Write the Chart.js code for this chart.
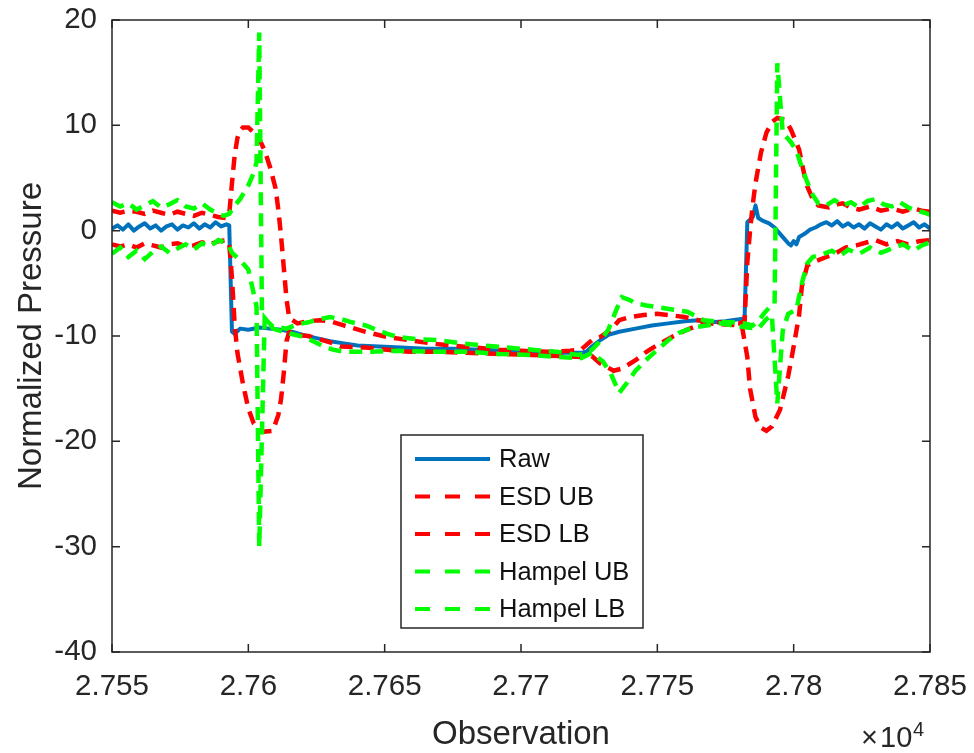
<!DOCTYPE html>
<html>
<head>
<meta charset="utf-8">
<title>Normalized Pressure</title>
<script src="https://cdn.jsdelivr.net/npm/chart.js@4.4.1/dist/chart.umd.min.js"></script>
<style>
  html, body { margin: 0; padding: 0; background: #fff; }
  #wrap { width: 974px; height: 753px; position: relative; }
</style>
</head>
<body>
<div id="wrap"><canvas id="pressureChart" width="974" height="753"></canvas></div>
<script>
// observation ranges and ticks
const xTickLabels = ['2.755', '2.76', '2.765', '2.77', '2.775', '2.78', '2.785'];
const yTickLabels = ['-40', '-30', '-20', '-10', '0', '10', '20'];

// raw signal
const rawObs = [
    27550, 27552, 27554, 27556, 27558, 27560, 27562, 27564, 27566, 27568,
    27570, 27572, 27574, 27576, 27578, 27580, 27582, 27584, 27586, 27588,
    27590, 27592, 27593, 27594, 27595, 27597, 27600, 27604, 27608, 27612,
    27616, 27620, 27625, 27630, 27635, 27640, 27648, 27656, 27665, 27675,
    27685, 27695, 27705, 27715, 27722, 27724, 27726, 27729, 27732, 27736,
    27742, 27748, 27754, 27760, 27765, 27770, 27775, 27780, 27782, 27783,
    27785, 27786, 27787, 27789, 27791, 27793, 27795, 27797, 27798, 27799,
    27800, 27801, 27802, 27804, 27806, 27808, 27810, 27812, 27814, 27816,
    27818, 27820, 27822, 27824, 27826, 27828, 27830, 27832, 27834, 27836,
    27838, 27840, 27842, 27844, 27846, 27848, 27850
];
const rawVal = [
    0.2, 0.5, 0.1, 0.6, 0.0, 0.4, 0.7, 0.2, 0.5, 0.0,
    0.4, 0.6, 0.1, 0.5, 0.3, 0.7, 0.2, 0.6, 0.3, 0.8,
    0.4, 0.6, 0.5, -9.6, -9.8, -9.3, -9.4, -9.2, -9.3, -9.4,
    -9.6, -9.9, -10.2, -10.5, -10.7, -10.9, -11.0, -11.1, -11.2, -11.2,
    -11.3, -11.4, -11.5, -11.6, -11.6, -11.5, -11.0, -10.4, -9.9, -9.6,
    -9.3, -9.0, -8.8, -8.6, -8.5, -8.7, -8.6, -8.4, -8.3, 0.8,
    1.3, 2.4, 1.2, 0.9, 0.7, 0.3, -0.3, -0.9, -1.2, -1.4,
    -1.0, -1.3, -0.6, -0.3, 0.1, 0.3, 0.6, 0.8, 0.5, 0.9,
    0.4, 0.7, 0.3, 0.6, 0.2, 0.7, 0.4, 0.1, 0.6, 0.3,
    0.7, 0.2, 0.5, 0.8, 0.3, 0.6, 0.2
];

// ESD upper bound
const esdUbObs = [
    27550, 27553, 27556, 27559, 27562, 27565, 27568, 27571, 27574, 27577,
    27580, 27583, 27586, 27589, 27592, 27593, 27594, 27595, 27596, 27597,
    27598, 27600, 27602, 27604, 27606, 27608, 27610, 27611, 27612, 27613,
    27614, 27615, 27618, 27622, 27626, 27630, 27635, 27643, 27651, 27659,
    27667, 27674, 27683, 27692, 27700, 27710, 27718, 27722, 27726, 27729,
    27733, 27736, 27740, 27745, 27750, 27754, 27760, 27765, 27772, 27780,
    27782, 27783, 27784, 27785, 27786, 27788, 27790, 27792, 27794, 27797,
    27799, 27802, 27804, 27805, 27807, 27809, 27811, 27813, 27816, 27818,
    27821, 27824, 27828, 27832, 27836, 27840, 27844, 27847, 27850
];
const esdUbVal = [
    1.9, 1.7, 1.9, 1.8, 1.6, 1.9, 1.7, 1.5, 1.8, 1.6,
    1.4, 1.7, 1.5, 1.3, 1.2, 1.6, 4.5, 7.2, 8.8, 9.5,
    9.8, 9.8, 9.3, 8.7, 7.6, 6.0, 4.0, 2.0, -0.5, -3.5,
    -6.5, -8.3, -8.8, -8.6, -8.5, -8.6, -9.0, -9.6, -10.1, -10.4,
    -10.7, -10.9, -11.1, -11.3, -11.4, -11.5, -11.4, -11.3, -10.4, -10.1,
    -9.4, -8.5, -8.2, -8.0, -7.9, -8.0, -8.2, -8.5, -8.7, -8.8,
    -8.6, -3.0, 0.0, 2.5, 4.5, 7.4, 9.3, 10.3, 10.7, 10.5,
    9.6, 7.7, 5.2, 4.2, 3.0, 2.4, 2.3, 2.2, 2.5, 2.6,
    2.2, 2.0, 2.3, 1.9, 2.1, 1.8, 2.1, 1.9, 1.8
];

// ESD lower bound
const esdLbObs = [
    27550, 27553, 27556, 27559, 27562, 27565, 27568, 27571, 27574, 27577,
    27580, 27583, 27586, 27589, 27592, 27593, 27594, 27595, 27596, 27598,
    27600, 27602, 27605, 27609, 27611, 27612, 27613, 27614, 27615, 27618,
    27622, 27626, 27630, 27634, 27643, 27651, 27659, 27670, 27680, 27692,
    27704, 27714, 27722, 27726, 27729, 27734, 27737, 27742, 27746, 27751,
    27756, 27761, 27765, 27769, 27775, 27781, 27783, 27784, 27786, 27788,
    27790, 27792, 27795, 27798, 27800, 27801, 27802, 27803, 27805, 27808,
    27812, 27815, 27819, 27823, 27827, 27830, 27834, 27838, 27842, 27846,
    27850
];
const esdLbVal = [
    -1.3, -1.5, -1.3, -1.6, -1.2, -1.4, -1.6, -1.3, -1.2, -1.5,
    -1.4, -1.1, -1.3, -1.0, -0.9, -1.2, -4.5, -9.0, -11.6, -14.5,
    -16.9, -18.3, -19.1, -19.0, -17.5, -16.0, -13.5, -10.5, -9.6, -9.9,
    -10.0, -10.3, -10.6, -11.0, -11.1, -11.3, -11.5, -11.5, -11.6, -11.7,
    -11.8, -11.9, -12.0, -11.9, -12.6, -13.3, -13.1, -12.3, -11.5, -10.7,
    -10.0, -9.4, -9.0, -8.8, -8.9, -9.0, -12.0, -15.0, -17.7, -18.7,
    -19.0, -18.6, -17.0, -13.8, -11.0, -9.5, -8.0, -5.3, -3.3, -2.9,
    -2.5, -2.2, -1.6, -1.4, -1.1, -0.9, -1.3, -1.0, -1.3, -1.0,
    -0.9
];

// Hampel upper bound
const hampelUbObs = [
    27550, 27553, 27556, 27559, 27562, 27565, 27568, 27571, 27574, 27577,
    27580, 27583, 27586, 27589, 27591, 27593, 27595, 27597, 27600, 27602,
    27603, 27604, 27605, 27607, 27609, 27614, 27618, 27622, 27626, 27630,
    27634, 27638, 27643, 27647, 27651, 27655, 27662, 27670, 27678, 27686,
    27695, 27704, 27713, 27721, 27724, 27726, 27729, 27732, 27735, 27737,
    27740, 27742, 27746, 27751, 27756, 27761, 27764, 27767, 27771, 27775,
    27779, 27782, 27785, 27787, 27789, 27791, 27793, 27794, 27796, 27799,
    27801, 27803, 27805, 27807, 27809, 27812, 27815, 27818, 27821, 27824,
    27827, 27830, 27833, 27836, 27839, 27842, 27845, 27848, 27850
];
const hampelUbVal = [
    2.7, 2.3, 2.6, 2.0, 2.4, 2.8, 2.2, 2.5, 2.9, 2.3,
    2.1, 2.6, 2.0, 1.6, 1.4, 1.6, 2.4, 3.0, 4.3, 5.5,
    6.5, 18.8, -8.0, -8.6, -9.1, -9.3, -8.9, -8.7, -8.4, -8.2,
    -8.4, -8.7, -9.0, -9.4, -9.8, -10.1, -10.3, -10.4, -10.7, -10.9,
    -11.1, -11.3, -11.5, -11.8, -11.6, -11.3, -10.5, -9.4, -7.5, -6.3,
    -6.6, -6.9, -7.1, -7.3, -7.5, -7.7, -8.1, -8.5, -8.6, -8.7,
    -8.7, -8.8, -9.0, -8.6, -7.9, -7.3, -7.0, 15.9, 9.3, 8.4,
    7.6, 6.0, 4.6, 3.4, 2.6, 2.4, 2.9, 2.4, 2.7, 2.2,
    2.8, 3.0, 2.5, 2.3, 2.7, 2.2, 1.9, 1.7, 1.5
];

// Hampel lower bound
const hampelLbObs = [
    27550, 27553, 27556, 27559, 27562, 27565, 27568, 27571, 27574, 27577,
    27580, 27583, 27586, 27589, 27591, 27593, 27594, 27597, 27600, 27602,
    27603, 27604, 27606, 27609, 27614, 27619, 27623, 27627, 27631, 27635,
    27645, 27655, 27667, 27680, 27692, 27704, 27714, 27722, 27726, 27730,
    27733, 27736, 27739, 27742, 27747, 27754, 27758, 27763, 27768, 27773,
    27778, 27783, 27787, 27790, 27792, 27794, 27796, 27798, 27801, 27803,
    27805, 27807, 27810, 27814, 27817, 27820, 27824, 27828, 27832, 27836,
    27840, 27844, 27847, 27850
];
const hampelLbVal = [
    -2.2, -1.6, -2.5, -1.9, -2.7, -2.0, -1.5, -2.1, -1.7, -1.3,
    -1.8, -1.2, -1.5, -0.9, -1.1, -1.5, -2.1, -2.8, -3.7, -6.0,
    -7.2, -30.0, -8.3, -9.3, -9.7, -10.0, -10.4, -10.9, -11.3, -11.5,
    -11.5, -11.4, -11.5, -11.5, -11.7, -11.8, -12.0, -12.1, -11.6, -12.4,
    -13.6, -15.4, -14.4, -13.3, -12.0, -10.4, -9.7, -9.2, -9.0, -8.8,
    -9.0, -9.2, -9.3, -8.4, -8.0, -16.4, -9.5, -7.9, -7.5, -5.0,
    -3.1, -2.5, -2.3, -1.9, -2.4, -1.8, -2.2, -1.6, -2.1, -1.7,
    -1.3, -1.9, -1.4, -1.1
];

const AXIS_COLOR = '#262626';
const FONT = "'Liberation Sans', Arial, Helvetica, sans-serif";

Chart.defaults.font.family = FONT;
Chart.defaults.color = AXIS_COLOR;

function toPoints(obs, vals) {
    return obs.map((x, i) => ({ x: x, y: vals[i] }));
}

function lineSet(label, obs, vals, color, dashed, order) {
    return {
        label: label,
        data: toPoints(obs, vals),
        borderColor: color,
        backgroundColor: color,
        borderWidth: dashed ? 4.5 : 4,
        borderDash: dashed ? [13, 8] : [],
        borderCapStyle: 'butt',
        borderJoinStyle: dashed ? 'miter' : 'round',
        pointRadius: 0,
        tension: 0,
        fill: false,
        order: order
    };
}

// keep the plot box fixed: the scales must not reserve extra room for end labels
function fixScale(size, horizontal) {
    return function (scale) {
        if (horizontal) scale.height = size; else scale.width = size;
        scale.paddingTop = 0;
        scale.paddingBottom = 0;
        scale.paddingLeft = 0;
        scale.paddingRight = 0;
    };
}

// box with inward tick marks on all four sides
const axesBox = {
    id: 'axesBox',
    afterDatasetsDraw(chart) {
        const { ctx, chartArea: a, scales: { x, y } } = chart;
        const len = 8;
        ctx.save();
        ctx.strokeStyle = AXIS_COLOR;
        ctx.lineWidth = 1.5;
        ctx.setLineDash([]);
        ctx.beginPath();
        x.ticks.forEach(t => {
            const px = x.getPixelForValue(t.value);
            ctx.moveTo(px, a.bottom); ctx.lineTo(px, a.bottom - len);
            ctx.moveTo(px, a.top); ctx.lineTo(px, a.top + len);
        });
        y.ticks.forEach(t => {
            const py = y.getPixelForValue(t.value);
            ctx.moveTo(a.left, py); ctx.lineTo(a.left + len, py);
            ctx.moveTo(a.right, py); ctx.lineTo(a.right - len, py);
        });
        ctx.stroke();
        ctx.strokeRect(a.left, a.top, a.right - a.left, a.bottom - a.top);

        // exponent under the x axis
        ctx.fillStyle = AXIS_COLOR;
        ctx.textBaseline = 'alphabetic';
        ctx.textAlign = 'left';
        ctx.font = '29px ' + FONT;
        ctx.fillText('\u00d7', 861, 747);
        ctx.fillText('10', 880, 747);
        ctx.font = '20px ' + FONT;
        ctx.fillText('4', 913, 736);
        ctx.restore();
    }
};

// boxed legend inside the plot
const boxLegend = {
    id: 'boxLegend',
    afterDraw(chart) {
        const { ctx } = chart;
        const left = 401, top = 435, w = 242, h = 193;
        const rowY = [459, 496.5, 534, 571.5, 609];
        ctx.save();
        ctx.fillStyle = '#ffffff';
        ctx.fillRect(left, top, w, h);
        ctx.strokeStyle = AXIS_COLOR;
        ctx.lineWidth = 1.5;
        ctx.strokeRect(left, top, w, h);
        chart.data.datasets.forEach((ds, i) => {
            const yy = rowY[i];
            ctx.strokeStyle = ds.borderColor;
            ctx.lineWidth = 4;
            ctx.setLineDash(ds.borderDash.length ? [15, 15] : []);
            ctx.beginPath();
            ctx.moveTo(415, yy);
            ctx.lineTo(490, yy);
            ctx.stroke();
            ctx.setLineDash([]);
            ctx.fillStyle = '#111111';
            ctx.font = '25.5px ' + FONT;
            ctx.textBaseline = 'middle';
            ctx.textAlign = 'left';
            ctx.fillText(ds.label, 499, yy + 1);
        });
        ctx.restore();
    }
};

new Chart(document.getElementById('pressureChart'), {
    type: 'line',
    data: {
        datasets: [
            lineSet('Raw', rawObs, rawVal, '#0072BD', false, 5),
            lineSet('ESD UB', esdUbObs, esdUbVal, '#FF0000', true, 4),
            lineSet('ESD LB', esdLbObs, esdLbVal, '#FF0000', true, 3),
            lineSet('Hampel UB', hampelUbObs, hampelUbVal, '#00FF00', true, 2),
            lineSet('Hampel LB', hampelLbObs, hampelLbVal, '#00FF00', true, 1)
        ]
    },
    options: {
        responsive: false,
        devicePixelRatio: 1,
        animation: false,
        layout: { padding: { top: 20, right: 44, left: 0, bottom: 0 } },
        plugins: {
            legend: { display: false },
            tooltip: { enabled: false }
        },
        scales: {
            x: {
                type: 'linear',
                min: 27550,
                max: 27850,
                grid: { display: false, drawTicks: false },
                border: { display: false },
                ticks: {
                    stepSize: 50,
                    padding: 17,
                    maxRotation: 0,
                    autoSkip: false,
                    font: { size: 29.5, lineHeight: 1.2 },
                    color: AXIS_COLOR,
                    callback: (v, i) => xTickLabels[i]
                },
                title: {
                    display: true,
                    text: 'Observation',
                    color: AXIS_COLOR,
                    font: { size: 33, lineHeight: 1 },
                    padding: { top: 0, bottom: 1.5 }
                },
                afterFit: fixScale(101, true)
            },
            y: {
                min: -40,
                max: 20,
                grid: { display: false, drawTicks: false },
                border: { display: false },
                ticks: {
                    stepSize: 10,
                    padding: 15,
                    font: { size: 29.5, lineHeight: 1.2 },
                    color: AXIS_COLOR,
                    callback: (v, i) => yTickLabels[i]
                },
                title: {
                    display: true,
                    text: 'Normalized Pressure',
                    color: AXIS_COLOR,
                    font: { size: 33, lineHeight: 1 },
                    padding: { top: 15.5, bottom: 0 }
                },
                afterFit: fixScale(112, false)
            }
        }
    },
    plugins: [axesBox, boxLegend]
});
</script>
</body>
</html>
